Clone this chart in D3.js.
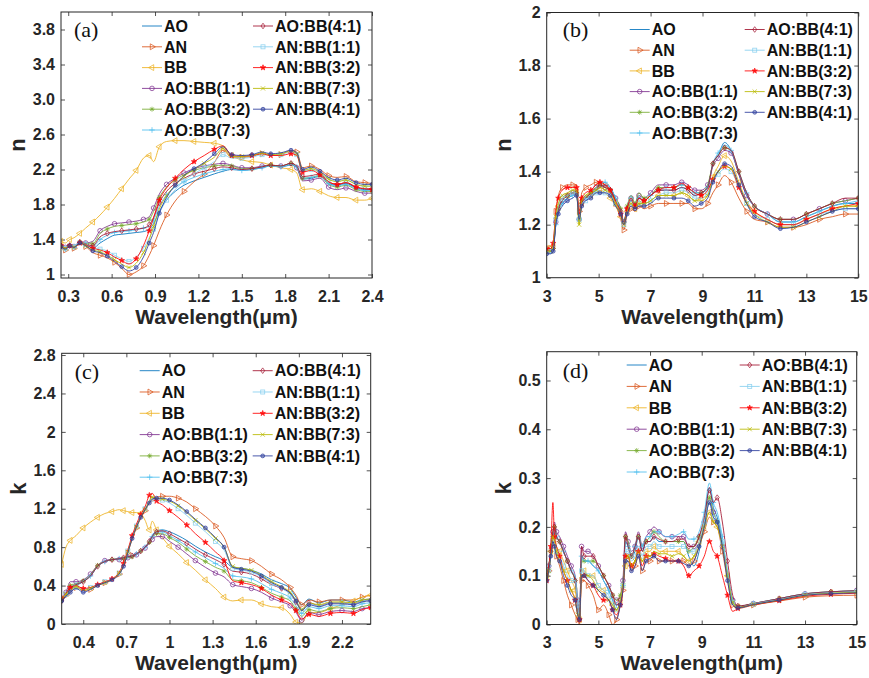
<!DOCTYPE html>
<html>
<head>
<meta charset="utf-8">
<script src="https://cdn.jsdelivr.net/npm/d3@7"></script>
<style>
  body { margin: 0; background: #fff; }
  svg { display: block; font-family: "Liberation Sans", Arial, sans-serif; }
</style>
</head>
<body>
<svg id="chart" width="869" height="678"></svg>
<script>
// ---- series definitions -------------------------------------------------
const seriesNames = ["AO", "AN", "BB", "AO:BB(1:1)", "AO:BB(3:2)", "AO:BB(7:3)",
                     "AO:BB(4:1)", "AN:BB(1:1)", "AN:BB(3:2)", "AN:BB(7:3)", "AN:BB(4:1)"];
const seriesColors = ["#0072BD", "#D95319", "#EDB120", "#7E2F8E", "#77AC30", "#4DBEEE",
                      "#A2142F", "#86CFEE", "#FF0000", "#B8B800", "#2B3C9C"];
const seriesMarkers = ["none", "triRight", "triLeft", "circle", "asterisk", "plus",
                       "diamond", "square", "star", "cross", "dot"];

// ---- (a) refractive index n, 0.25–2.4 µm ---------------------------------
const wavelengthA = [0.25,0.28,0.31,0.34,0.38,0.42, 0.47,0.52,0.57,0.62,0.67,0.72,
  0.77,0.82,0.86,0.89,0.93,0.98, 1.04,1.10,1.17,1.24,1.31,1.37,
  1.43,1.50,1.57,1.64,1.70,1.77, 1.84,1.88,1.92,1.98,2.04,2.10, 2.16,2.22,2.29,2.35,2.40];
const nShort = [
  [1.33,1.30,1.33,1.31,1.36,1.35, 1.30,1.36,1.41,1.45,1.46,1.47, 1.48,1.49,1.52,1.58,1.72,1.85,
   1.95,2.02,2.07,2.11,2.15,2.18, 2.20,2.19,2.20,2.22,2.24,2.23, 2.25,2.22,2.09,2.10,2.12,2.04, 2.02,2.04,1.99,1.97,1.97],
  [1.30,1.28,1.32,1.30,1.35,1.32, 1.25,1.22,1.19,1.14,1.07,1.00, 1.03,1.10,1.22,1.33,1.50,1.68,
   1.84,1.95,2.06,2.15,2.28,2.42, 2.34,2.34,2.35,2.38,2.36,2.37, 2.42,2.40,2.22,2.24,2.20,2.13, 2.11,2.12,2.06,2.05,2.04],
  [1.38,1.36,1.40,1.42,1.47,1.53, 1.60,1.68,1.77,1.87,1.98,2.09, 2.19,2.33,2.36,2.29,2.46,2.52,
   2.53,2.53,2.52,2.51,2.50,2.47, 2.36,2.31,2.29,2.28,2.25,2.22, 2.20,2.16,1.97,1.98,1.95,1.90, 1.88,1.88,1.85,1.85,1.87],
  [1.34,1.31,1.34,1.32,1.38,1.36, 1.38,1.50,1.55,1.58,1.59,1.60, 1.61,1.63,1.66,1.76,1.92,2.03,
   2.10,2.16,2.21,2.24,2.26,2.27, 2.25,2.22,2.22,2.24,2.25,2.24, 2.27,2.22,2.07,2.08,2.10,2.00, 1.97,1.99,1.95,1.93,1.93],
  [1.33,1.30,1.33,1.32,1.37,1.36, 1.35,1.47,1.52,1.55,1.56,1.57, 1.58,1.60,1.63,1.72,1.88,2.00,
   2.08,2.14,2.19,2.22,2.24,2.25, 2.24,2.21,2.21,2.23,2.25,2.24, 2.27,2.23,2.10,2.11,2.13,2.03, 2.00,2.02,1.97,1.95,1.95],
  [1.32,1.29,1.33,1.31,1.36,1.35, 1.32,1.40,1.45,1.48,1.49,1.50, 1.51,1.53,1.55,1.62,1.78,1.91,
   2.00,2.06,2.11,2.15,2.18,2.20, 2.21,2.19,2.20,2.22,2.24,2.23, 2.26,2.23,2.10,2.11,2.13,2.04, 2.01,2.03,1.98,1.96,1.96],
  [1.33,1.30,1.33,1.31,1.37,1.35, 1.33,1.43,1.47,1.49,1.50,1.51, 1.52,1.53,1.57,1.65,1.82,1.95,
   2.04,2.10,2.15,2.18,2.21,2.23, 2.22,2.20,2.21,2.23,2.25,2.24, 2.27,2.24,2.12,2.13,2.15,2.06, 2.03,2.05,2.00,1.98,1.98],
  [1.33,1.30,1.34,1.32,1.37,1.34, 1.30,1.29,1.27,1.22,1.18,1.15, 1.20,1.30,1.42,1.52,1.70,1.85,
   1.97,2.07,2.15,2.22,2.29,2.37, 2.33,2.33,2.34,2.37,2.36,2.37, 2.40,2.37,2.18,2.20,2.16,2.09, 2.07,2.08,2.03,2.01,2.01],
  [1.33,1.30,1.33,1.31,1.36,1.34, 1.30,1.28,1.25,1.20,1.16,1.12, 1.18,1.33,1.50,1.65,1.85,1.99,
   2.10,2.20,2.29,2.36,2.43,2.47, 2.36,2.35,2.36,2.38,2.36,2.36, 2.38,2.36,2.17,2.19,2.14,2.06, 2.03,2.05,2.00,1.98,1.97],
  [1.33,1.30,1.33,1.31,1.36,1.33, 1.28,1.26,1.22,1.17,1.12,1.08, 1.13,1.25,1.40,1.55,1.75,1.90,
   2.02,2.12,2.20,2.27,2.34,2.44, 2.35,2.35,2.36,2.39,2.37,2.38, 2.41,2.38,2.19,2.21,2.17,2.09, 2.06,2.08,2.03,2.01,2.01],
  [1.32,1.29,1.33,1.31,1.36,1.33, 1.27,1.25,1.21,1.15,1.09,1.04, 1.08,1.20,1.36,1.48,1.70,1.88,
   2.02,2.13,2.21,2.28,2.38,2.46, 2.37,2.36,2.37,2.40,2.38,2.39, 2.42,2.39,2.20,2.23,2.18,2.11, 2.08,2.10,2.05,2.03,2.03]
];

// ---- (b) refractive index n, 3–15 µm -------------------------------------
const wavelengthB = [3.0,3.15,3.25,3.35,3.45,3.6, 3.8,4.0,4.15,4.25,4.35,4.5,
  4.7,4.9,5.05,5.25,5.45,5.65, 5.85,5.97,6.1,6.25,6.4,6.55, 6.75,7.0,7.3,7.6,7.9,8.2,
  8.45,8.7,8.95,9.2,9.4,9.6, 9.85,10.1,10.4,10.7,11.0,11.5, 12.0,12.5,13.0,13.5,14.0,14.5, 15.0];
const nLong = [
  [1.10,1.10,1.11,1.20,1.25,1.28, 1.30,1.31,1.32,1.22,1.28,1.30, 1.31,1.33,1.34,1.35,1.34,1.30,
   1.25,1.21,1.26,1.29,1.27,1.30, 1.29,1.31,1.33,1.33,1.33,1.34, 1.33,1.31,1.32,1.34,1.43,1.46,
   1.51,1.48,1.39,1.31,1.27,1.24, 1.21,1.21,1.23,1.25,1.27,1.28, 1.28],
  [1.11,1.11,1.13,1.25,1.31,1.34, 1.35,1.35,1.35,1.25,1.32,1.34, 1.35,1.36,1.36,1.35,1.33,1.28,
   1.22,1.18,1.24,1.26,1.25,1.27, 1.26,1.27,1.28,1.28,1.28,1.28, 1.28,1.26,1.26,1.28,1.32,1.35,
   1.385,1.36,1.30,1.25,1.22,1.21, 1.19,1.19,1.20,1.22,1.23,1.24, 1.24],
  [1.11,1.10,1.12,1.22,1.27,1.30, 1.31,1.32,1.32,1.20,1.28,1.30, 1.31,1.32,1.33,1.32,1.30,1.27,
   1.23,1.20,1.25,1.28,1.26,1.29, 1.28,1.29,1.31,1.31,1.31,1.32, 1.31,1.29,1.30,1.31,1.38,1.42,
   1.46,1.44,1.36,1.29,1.25,1.22, 1.20,1.20,1.22,1.24,1.26,1.27, 1.27],
  [1.10,1.10,1.12,1.21,1.26,1.29, 1.31,1.32,1.33,1.22,1.29,1.30, 1.32,1.34,1.35,1.34,1.33,1.30,
   1.26,1.21,1.27,1.30,1.28,1.31, 1.30,1.32,1.35,1.35,1.35,1.36, 1.35,1.33,1.33,1.35,1.42,1.45,
   1.48,1.47,1.39,1.31,1.27,1.24, 1.22,1.22,1.24,1.26,1.28,1.29, 1.30],
  [1.10,1.10,1.11,1.21,1.26,1.29, 1.31,1.32,1.32,1.21,1.29,1.30, 1.32,1.34,1.35,1.34,1.33,1.30,
   1.26,1.21,1.27,1.31,1.28,1.32, 1.30,1.31,1.34,1.34,1.34,1.35, 1.34,1.32,1.32,1.35,1.43,1.46,
   1.49,1.48,1.40,1.32,1.27,1.24, 1.22,1.22,1.24,1.26,1.28,1.29, 1.30],
  [1.10,1.10,1.11,1.20,1.25,1.28, 1.30,1.31,1.32,1.22,1.28,1.30, 1.31,1.33,1.35,1.36,1.34,1.30,
   1.25,1.21,1.26,1.30,1.27,1.30, 1.29,1.31,1.33,1.34,1.34,1.35, 1.34,1.32,1.32,1.34,1.43,1.47,
   1.50,1.48,1.40,1.32,1.27,1.24, 1.21,1.21,1.23,1.25,1.27,1.28, 1.29],
  [1.10,1.10,1.11,1.21,1.26,1.29, 1.31,1.32,1.32,1.22,1.28,1.30, 1.32,1.33,1.35,1.34,1.33,1.29,
   1.25,1.21,1.26,1.29,1.27,1.30, 1.29,1.31,1.33,1.33,1.33,1.34, 1.33,1.31,1.32,1.34,1.43,1.46,
   1.49,1.48,1.40,1.32,1.27,1.24, 1.22,1.22,1.24,1.26,1.28,1.30, 1.30],
  [1.10,1.10,1.12,1.22,1.27,1.30, 1.31,1.32,1.32,1.22,1.28,1.29, 1.31,1.32,1.32,1.32,1.31,1.28,
   1.24,1.20,1.25,1.28,1.26,1.28, 1.28,1.29,1.31,1.32,1.32,1.33, 1.32,1.30,1.30,1.32,1.36,1.39,
   1.41,1.40,1.34,1.28,1.24,1.22, 1.20,1.20,1.22,1.24,1.25,1.26, 1.26],
  [1.11,1.11,1.13,1.25,1.30,1.33, 1.34,1.34,1.34,1.24,1.30,1.32, 1.33,1.35,1.36,1.35,1.33,1.29,
   1.24,1.20,1.26,1.30,1.27,1.30, 1.29,1.31,1.33,1.34,1.34,1.355, 1.34,1.32,1.31,1.33,1.37,1.40,
   1.42,1.41,1.34,1.28,1.25,1.22, 1.20,1.20,1.22,1.24,1.26,1.27, 1.28],
  [1.10,1.10,1.12,1.23,1.28,1.31, 1.32,1.33,1.33,1.20,1.29,1.31, 1.32,1.33,1.34,1.33,1.32,1.28,
   1.24,1.20,1.25,1.28,1.26,1.28, 1.28,1.29,1.31,1.31,1.31,1.32, 1.31,1.29,1.29,1.31,1.37,1.40,
   1.42,1.41,1.35,1.28,1.24,1.21, 1.19,1.19,1.21,1.23,1.25,1.27, 1.27],
  [1.09,1.09,1.10,1.20,1.24,1.27, 1.29,1.30,1.31,1.22,1.27,1.29, 1.30,1.32,1.32,1.32,1.31,1.27,
   1.24,1.20,1.24,1.27,1.26,1.27, 1.27,1.28,1.30,1.30,1.30,1.30, 1.29,1.27,1.28,1.30,1.36,1.40,
   1.43,1.42,1.35,1.28,1.23,1.21, 1.185,1.19,1.21,1.23,1.25,1.26, 1.26]
];

// ---- (c) extinction coefficient k, 0.25–2.4 µm ---------------------------
const wavelengthC = [0.25,0.28,0.31,0.35,0.40,0.45, 0.50,0.55,0.60,0.65,0.68,0.71,
  0.74,0.77,0.80,0.83,0.86,0.88, 0.91,0.95,1.00,1.06,1.12,1.18, 1.25,1.32,1.38,1.44,1.50,1.57,
  1.64,1.71,1.78,1.84,1.88,1.92, 1.97,2.04,2.12,2.20,2.28,2.34, 2.40];
const kShort = [
  [0.22,0.30,0.36,0.40,0.44,0.50, 0.60,0.65,0.67,0.68,0.69,0.70, 0.71,0.73,0.76,0.80,0.86,0.92,
   0.97,0.98,0.96,0.92,0.87,0.81, 0.75,0.70,0.66,0.59,0.58,0.56, 0.52,0.46,0.42,0.37,0.28,0.20,
   0.26,0.22,0.25,0.25,0.23,0.25, 0.26],
  [0.26,0.30,0.33,0.38,0.35,0.36, 0.40,0.43,0.46,0.52,0.60,0.74, 0.88,1.00,1.10,1.18,1.26,1.30,
   1.32,1.33,1.33,1.31,1.27,1.20, 1.12,1.02,0.90,0.70,0.68,0.66, 0.60,0.52,0.46,0.38,0.30,0.20,
   0.25,0.23,0.25,0.25,0.25,0.28, 0.30],
  [0.62,0.80,0.87,0.92,1.00,1.06, 1.11,1.15,1.17,1.19,1.18,1.17, 1.16,1.16,1.15,1.08,0.98,1.07,
   0.98,0.90,0.81,0.73,0.64,0.56, 0.46,0.37,0.28,0.24,0.25,0.25, 0.21,0.18,0.17,0.10,0.02,0.01,
   0.12,0.12,0.16,0.20,0.24,0.28, 0.30],
  [0.26,0.33,0.44,0.44,0.46,0.52, 0.61,0.66,0.67,0.67,0.68,0.69, 0.70,0.72,0.75,0.79,0.84,0.88,
   0.91,0.91,0.86,0.80,0.73,0.66, 0.59,0.53,0.49,0.41,0.39,0.37, 0.33,0.27,0.23,0.19,0.12,0.04,
   0.12,0.10,0.13,0.14,0.13,0.16, 0.17],
  [0.25,0.31,0.40,0.42,0.45,0.51, 0.61,0.65,0.67,0.68,0.68,0.69, 0.70,0.73,0.76,0.80,0.85,0.90,
   0.94,0.94,0.90,0.85,0.78,0.71, 0.65,0.59,0.55,0.46,0.45,0.43, 0.38,0.32,0.28,0.24,0.16,0.08,
   0.15,0.13,0.16,0.17,0.16,0.18, 0.20],
  [0.24,0.31,0.38,0.41,0.45,0.50, 0.60,0.65,0.67,0.68,0.69,0.70, 0.71,0.73,0.76,0.80,0.86,0.91,
   0.95,0.96,0.92,0.87,0.81,0.75, 0.69,0.63,0.58,0.50,0.49,0.47, 0.42,0.36,0.32,0.27,0.19,0.11,
   0.18,0.16,0.19,0.19,0.18,0.21, 0.22],
  [0.24,0.30,0.37,0.41,0.44,0.50, 0.60,0.65,0.67,0.68,0.69,0.70, 0.71,0.73,0.76,0.80,0.86,0.91,
   0.96,0.97,0.94,0.89,0.84,0.78, 0.72,0.67,0.62,0.55,0.54,0.52, 0.47,0.41,0.37,0.32,0.23,0.15,
   0.22,0.19,0.22,0.22,0.21,0.24, 0.25],
  [0.27,0.31,0.34,0.38,0.36,0.38, 0.41,0.44,0.47,0.53,0.62,0.76, 0.90,1.02,1.12,1.20,1.27,1.30,
   1.30,1.29,1.26,1.20,1.13,1.05, 0.96,0.86,0.77,0.58,0.56,0.54, 0.49,0.42,0.37,0.31,0.24,0.14,
   0.21,0.19,0.22,0.22,0.21,0.24, 0.25],
  [0.27,0.32,0.38,0.40,0.37,0.38, 0.41,0.44,0.47,0.54,0.63,0.77, 0.92,1.04,1.14,1.22,1.34,1.36,
   1.28,1.24,1.18,1.11,1.03,0.94, 0.85,0.75,0.66,0.45,0.43,0.41, 0.37,0.30,0.25,0.21,0.14,0.05,
   0.10,0.08,0.11,0.12,0.11,0.15, 0.17],
  [0.26,0.31,0.35,0.39,0.35,0.37, 0.40,0.43,0.46,0.53,0.61,0.75, 0.89,1.01,1.11,1.19,1.28,1.32,
   1.31,1.30,1.28,1.23,1.16,1.08, 0.99,0.89,0.80,0.60,0.58,0.56, 0.51,0.44,0.39,0.33,0.25,0.15,
   0.22,0.20,0.23,0.23,0.22,0.25, 0.26],
  [0.24,0.29,0.33,0.37,0.33,0.36, 0.40,0.43,0.46,0.52,0.60,0.74, 0.89,1.01,1.11,1.19,1.26,1.30,
   1.31,1.31,1.29,1.24,1.17,1.09, 1.00,0.90,0.80,0.59,0.57,0.55, 0.50,0.43,0.38,0.32,0.24,0.14,
   0.20,0.18,0.21,0.21,0.20,0.23, 0.24]
];

// ---- (d) extinction coefficient k, 3–15 µm -------------------------------
const wavelengthD = [3.0,3.08,3.16,3.24,3.3,3.38, 3.5,3.65,3.8,3.95,4.1,4.2,
  4.27,4.35,4.45,4.6,4.8,5.0, 5.2,5.4,5.55,5.7,5.85,5.95, 6.05,6.15,6.28,6.42,6.55,6.7,
  6.85,7.0,7.15,7.35,7.6,7.85, 8.1,8.3,8.5,8.7,8.9,9.1, 9.3,9.45,9.6,9.8,10.0,10.2,
  10.4,11.0,12.0,13.0,14.0,15.0];
const kLong = [
  [0.09,0.12,0.14,0.18,0.19,0.18, 0.17,0.15,0.13,0.11,0.09,0.04, 0.01,0.14,0.13,0.13,0.12,0.11,
   0.09,0.07,0.05,0.03,0.05,0.08, 0.17,0.16,0.14,0.15,0.18,0.15, 0.17,0.17,0.18,0.17,0.17,0.17,
   0.17,0.17,0.14,0.12,0.15,0.21, 0.28,0.24,0.22,0.17,0.10,0.045, 0.036,0.042,0.052,0.062,0.066,0.068],
  [0.09,0.11,0.14,0.17,0.16,0.14, 0.12,0.09,0.06,0.04,0.02,0.01, 0.00,0.09,0.09,0.08,0.06,0.03,
   0.04,0.02,0.00,0.01,0.04,0.07, 0.13,0.14,0.11,0.12,0.14,0.11, 0.13,0.13,0.14,0.13,0.13,0.13,
   0.13,0.13,0.12,0.13,0.16,0.19, 0.22,0.21,0.20,0.15,0.09,0.04, 0.033,0.040,0.048,0.056,0.059,0.060],
  [0.10,0.12,0.15,0.18,0.18,0.16, 0.15,0.13,0.11,0.09,0.07,0.03, 0.01,0.11,0.11,0.10,0.10,0.08,
   0.07,0.05,0.04,0.03,0.05,0.08, 0.12,0.13,0.12,0.13,0.15,0.13, 0.15,0.15,0.16,0.15,0.15,0.15,
   0.15,0.14,0.13,0.14,0.17,0.20, 0.23,0.21,0.20,0.16,0.10,0.045, 0.036,0.042,0.051,0.061,0.065,0.067],
  [0.10,0.12,0.15,0.19,0.21,0.19, 0.18,0.16,0.14,0.12,0.10,0.05, 0.01,0.16,0.15,0.15,0.14,0.12,
   0.10,0.08,0.06,0.05,0.06,0.09, 0.19,0.17,0.15,0.16,0.19,0.16, 0.18,0.19,0.20,0.19,0.18,0.18,
   0.18,0.18,0.16,0.16,0.18,0.21, 0.25,0.23,0.21,0.16,0.10,0.05, 0.037,0.043,0.053,0.063,0.067,0.070],
  [0.10,0.12,0.15,0.19,0.20,0.18, 0.17,0.15,0.13,0.11,0.09,0.04, 0.01,0.13,0.13,0.13,0.13,0.12,
   0.10,0.08,0.06,0.05,0.06,0.08, 0.18,0.17,0.14,0.16,0.18,0.16, 0.17,0.18,0.19,0.18,0.17,0.17,
   0.17,0.17,0.15,0.16,0.18,0.21, 0.26,0.23,0.21,0.17,0.10,0.05, 0.037,0.043,0.053,0.063,0.067,0.069],
  [0.10,0.12,0.15,0.18,0.19,0.18, 0.17,0.15,0.13,0.11,0.10,0.05, 0.01,0.14,0.13,0.13,0.12,0.11,
   0.09,0.07,0.05,0.04,0.05,0.08, 0.17,0.16,0.14,0.16,0.18,0.16, 0.18,0.18,0.19,0.19,0.18,0.18,
   0.185,0.19,0.175,0.175,0.19,0.23, 0.29,0.25,0.23,0.18,0.11,0.05, 0.037,0.043,0.053,0.063,0.067,0.069],
  [0.10,0.12,0.15,0.19,0.20,0.18, 0.17,0.15,0.13,0.11,0.09,0.04, 0.01,0.16,0.14,0.14,0.14,0.12,
   0.10,0.08,0.06,0.04,0.05,0.08, 0.18,0.16,0.14,0.16,0.18,0.15, 0.17,0.17,0.18,0.175,0.17,0.17,
   0.175,0.175,0.16,0.16,0.18,0.22, 0.275,0.25,0.26,0.21,0.13,0.06, 0.038,0.043,0.053,0.063,0.067,0.069],
  [0.09,0.11,0.14,0.17,0.17,0.15, 0.14,0.12,0.10,0.09,0.09,0.04, 0.01,0.11,0.11,0.10,0.10,0.08,
   0.07,0.06,0.04,0.03,0.05,0.08, 0.15,0.15,0.13,0.14,0.16,0.14, 0.16,0.16,0.17,0.16,0.16,0.16,
   0.16,0.16,0.15,0.15,0.17,0.21, 0.25,0.22,0.21,0.17,0.10,0.045, 0.035,0.042,0.051,0.061,0.065,0.067],
  [0.09,0.12,0.16,0.25,0.18,0.16, 0.14,0.11,0.09,0.07,0.05,0.02, 0.01,0.10,0.10,0.09,0.08,0.06,
   0.05,0.05,0.03,0.02,0.04,0.07, 0.14,0.14,0.12,0.13,0.15,0.12, 0.14,0.14,0.145,0.14,0.135,0.13,
   0.13,0.12,0.10,0.11,0.12,0.14, 0.17,0.15,0.14,0.10,0.06,0.027, 0.033,0.040,0.049,0.058,0.062,0.064],
  [0.09,0.11,0.14,0.18,0.17,0.15, 0.13,0.11,0.09,0.07,0.05,0.02, 0.01,0.10,0.10,0.10,0.09,0.07,
   0.06,0.05,0.04,0.03,0.05,0.08, 0.13,0.14,0.12,0.13,0.15,0.13, 0.14,0.14,0.15,0.145,0.145,0.14,
   0.145,0.14,0.13,0.14,0.16,0.20, 0.23,0.21,0.20,0.16,0.10,0.045, 0.035,0.041,0.050,0.060,0.064,0.066],
  [0.09,0.11,0.14,0.17,0.16,0.14, 0.13,0.10,0.08,0.06,0.05,0.02, 0.01,0.10,0.10,0.09,0.08,0.07,
   0.06,0.05,0.03,0.01,0.04,0.07, 0.13,0.13,0.11,0.12,0.14,0.11, 0.13,0.135,0.14,0.13,0.13,0.13,
   0.13,0.125,0.12,0.13,0.16,0.20, 0.25,0.22,0.21,0.16,0.09,0.04, 0.034,0.041,0.050,0.060,0.063,0.065]
];

// ---- axis ticks ----------------------------------------------------------
const xTicksShort = [0.3, 0.6, 0.9, 1.2, 1.5, 1.8, 2.1, 2.4];
const xTickLabelsShort = ["0.3", "0.6", "0.9", "1.2", "1.5", "1.8", "2.1", "2.4"];
const xTicksShortK = [0.4, 0.7, 1, 1.3, 1.6, 1.9, 2.2];
const xTickLabelsShortK = ["0.4", "0.7", "1", "1.3", "1.6", "1.9", "2.2"];
const xTicksLong = [3, 5, 7, 9, 11, 13, 15];
const xTickLabelsLong = ["3", "5", "7", "9", "11", "13", "15"];
const yTicksA = [1, 1.4, 1.8, 2.2, 2.6, 3.0, 3.4, 3.8];
const yTickLabelsA = ["1", "1.4", "1.8", "2.2", "2.6", "3.0", "3.4", "3.8"];
const yTicksB = [1, 1.2, 1.4, 1.6, 1.8, 2];
const yTickLabelsB = ["1", "1.2", "1.4", "1.6", "1.8", "2"];
const yTicksC = [0, 0.4, 0.8, 1.2, 1.6, 2, 2.4, 2.8];
const yTickLabelsC = ["0", "0.4", "0.8", "1.2", "1.6", "2", "2.4", "2.8"];
const yTicksD = [0, 0.1, 0.2, 0.3, 0.4, 0.5];
const yTickLabelsD = ["0", "0.1", "0.2", "0.3", "0.4", "0.5"];

// ---- panel layout ----------------------------------------------------------
const panels = [
  { tag: "(a)", box: { x: 61, y: 12, w: 311, h: 266 }, xDomain: [0.25, 2.4], yDomain: [0.96, 4.0],
    xTicks: xTicksShort, xLabels: xTickLabelsShort, yTicks: yTicksA, yLabels: yTickLabelsA,
    yTitle: "n", xs: wavelengthA, ys: nShort, tagPos: [13, 25],
    legend: { c1: 81, c2: 192, y0: 14, dy: 20.8 } },
  { tag: "(b)", box: { x: 546.7, y: 12.5, w: 311.6, h: 265.2 }, xDomain: [3, 15], yDomain: [1, 2],
    xTicks: xTicksLong, xLabels: xTickLabelsLong, yTicks: yTicksB, yLabels: yTickLabelsB,
    yTitle: "n", xs: wavelengthB, ys: nLong, tagPos: [16, 24.5],
    legend: { c1: 83, c2: 198, y0: 17, dy: 20.7 } },
  { tag: "(c)", box: { x: 61.7, y: 353.3, w: 309, h: 270.7 }, xDomain: [0.25, 2.4], yDomain: [0, 2.818],
    xTicks: xTicksShortK, xLabels: xTickLabelsShortK, yTicks: yTicksC, yLabels: yTickLabelsC,
    yTitle: "k", xs: wavelengthC, ys: kShort, tagPos: [13, 26],
    legend: { c1: 78, c2: 191, y0: 17.4, dy: 21.3 } },
  { tag: "(d)", box: { x: 546.7, y: 351.7, w: 310, h: 272.8 }, xDomain: [3, 15], yDomain: [0, 0.559],
    xTicks: xTicksLong, xLabels: xTickLabelsLong, yTicks: yTicksD, yLabels: yTickLabelsD,
    yTitle: "k", xs: wavelengthD, ys: kLong, tagPos: [16, 26],
    legend: { c1: 80, c2: 193, y0: 13.3, dy: 21.4 } }
];

const ink = "#262626";
const svg = d3.select("#chart");

// marker glyphs, MATLAB-style (small, mostly open)
function drawMarker(sel, type, color) {
  let m;
  switch (type) {
    case "triRight":
      m = sel.append("path").attr("d", d3.symbol(d3.symbolTriangle, 15)()).attr("transform", "rotate(90)");
      break;
    case "triLeft":
      m = sel.append("path").attr("d", d3.symbol(d3.symbolTriangle, 15)()).attr("transform", "rotate(-90)");
      break;
    case "circle":
      m = sel.append("circle").attr("r", 2.3);
      break;
    case "asterisk":
      m = sel.append("path").attr("d", "M-2.5,0H2.5M0,-2.5V2.5M-1.8,-1.8L1.8,1.8M-1.8,1.8L1.8,-1.8");
      break;
    case "plus":
      m = sel.append("path").attr("d", "M-2.8,0H2.8M0,-2.8V2.8");
      break;
    case "diamond":
      m = sel.append("path").attr("d", "M0,-2.8L2,0L0,2.8L-2,0Z");
      break;
    case "square":
      m = sel.append("rect").attr("x", -2).attr("y", -2).attr("width", 4).attr("height", 4);
      break;
    case "star":
      m = sel.append("path").attr("d", d3.symbol(d3.symbolStar, 9)());
      break;
    case "cross":
      m = sel.append("path").attr("d", "M-2.1,-2.1L2.1,2.1M-2.1,2.1L2.1,-2.1");
      break;
    case "dot":
      m = sel.append("circle").attr("r", 1.9);
      break;
    default:
      return;
  }
  m.attr("fill", "none").attr("stroke", color).attr("stroke-width", 0.85);
  if (type === "star") m.attr("fill", color);
  if (type === "dot") m.attr("fill", color).attr("fill-opacity", 0.5);
}

panels.forEach((p, pi) => {
  const { x: bx, y: by, w, h } = p.box;
  const g = svg.append("g").attr("transform", `translate(${bx},${by})`);
  const x = d3.scaleLinear().domain(p.xDomain).range([0, w]);
  const y = d3.scaleLinear().domain(p.yDomain).range([h, 0]);

  const clipId = "clip" + pi;
  g.append("clipPath").attr("id", clipId)
    .append("rect").attr("x", 0).attr("y", 0).attr("width", w).attr("height", h);

  // axes: labelled bottom/left, mirrored ticks top/right, all ticks inward
  const styleAxis = (a) => {
    a.select(".domain").remove();
    a.selectAll(".tick line").attr("stroke", ink).attr("stroke-width", 0.8);
    a.selectAll(".tick text").attr("fill", ink).attr("font-size", 16).attr("font-weight", "bold")
      .attr("font-family", "'Liberation Sans', Arial, sans-serif");
  };
  g.append("g").attr("transform", `translate(0,${h})`)
    .call(d3.axisBottom(x).tickValues(p.xTicks).tickFormat((d, i) => p.xLabels[i])
      .tickSizeInner(-4).tickSizeOuter(0).tickPadding(12.5))
    .call(styleAxis);
  g.append("g")
    .call(d3.axisTop(x).tickValues(p.xTicks).tickFormat("").tickSizeInner(-4).tickSizeOuter(0))
    .call(styleAxis);
  g.append("g")
    .call(d3.axisLeft(y).tickValues(p.yTicks).tickFormat((d, i) => p.yLabels[i])
      .tickSizeInner(-4).tickSizeOuter(0).tickPadding(6))
    .call(styleAxis);
  g.append("g").attr("transform", `translate(${w},0)`)
    .call(d3.axisRight(y).tickValues(p.yTicks).tickFormat("").tickSizeInner(-4).tickSizeOuter(0))
    .call(styleAxis);

  // series lines and markers
  const line = d3.line().x(d => x(d[0])).y(d => y(d[1])).curve(d3.curveMonotoneX);
  const plot = g.append("g").attr("clip-path", `url(#${clipId})`);
  p.ys.forEach((vals, si) => {
    const pts = p.xs.map((xv, j) => [xv, vals[j]]).filter(d => d[1] !== undefined);
    plot.append("path").datum(pts)
      .attr("d", line).attr("fill", "none")
      .attr("stroke", seriesColors[si]).attr("stroke-width", 1).attr("stroke-opacity", 0.85)
      .attr("stroke-linejoin", "round");
    if (seriesMarkers[si] !== "none") {
      pts.forEach((d, j) => {
        if (j % 2 !== si % 2) return;
        const mg = plot.append("g").attr("transform", `translate(${x(d[0])},${y(d[1])})`)
          .attr("opacity", 0.85);
        drawMarker(mg, seriesMarkers[si], seriesColors[si]);
      });
    }
  });

  // frame
  g.append("rect").attr("x", 0).attr("y", 0).attr("width", w).attr("height", h)
    .attr("fill", "none").attr("stroke", ink).attr("stroke-width", 1);

  // legend (two columns, no frame)
  const L = p.legend;
  seriesNames.forEach((name, si) => {
    const col = si < 6 ? 0 : 1;
    const row = si < 6 ? si : si - 6;
    const lx = col === 0 ? L.c1 : L.c2;
    const ly = L.y0 + row * L.dy;
    const lg = g.append("g");
    lg.append("line").attr("x1", lx).attr("x2", lx + 20).attr("y1", ly).attr("y2", ly)
      .attr("stroke", seriesColors[si]).attr("stroke-width", 1).attr("stroke-opacity", 0.85);
    if (seriesMarkers[si] !== "none") {
      const mg = lg.append("g").attr("transform", `translate(${lx + 10},${ly})`).attr("opacity", 0.85);
      drawMarker(mg, seriesMarkers[si], seriesColors[si]);
    }
    lg.append("text").attr("x", lx + 22).attr("y", ly).attr("dy", "0.36em")
      .attr("font-size", 16).attr("font-weight", "bold").attr("fill", "#111")
      .text(name);
  });

  // panel tag
  g.append("text").attr("x", p.tagPos[0]).attr("y", p.tagPos[1])
    .attr("font-family", "'Liberation Serif', 'Times New Roman', serif")
    .attr("font-size", 22).attr("fill", "#111").text(p.tag);

  // axis titles
  g.append("text").attr("transform", `translate(-36,${h / 2}) rotate(-90)`)
    .attr("text-anchor", "middle").attr("font-size", 22).attr("font-weight", "bold")
    .attr("fill", ink).text(p.yTitle);
  g.append("text").attr("x", w / 2).attr("y", h + 46)
    .attr("text-anchor", "middle").attr("font-size", 21).attr("font-weight", "bold")
    .attr("fill", ink).text("Wavelength(μm)");
});
</script>
</body>
</html>
